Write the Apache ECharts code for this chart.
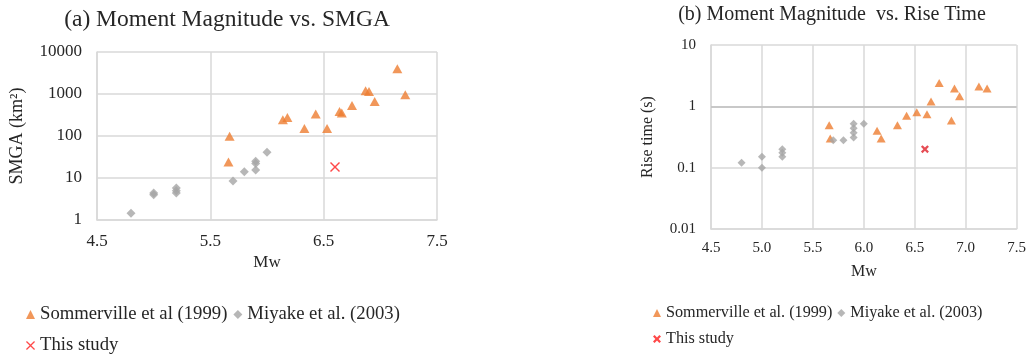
<!DOCTYPE html>
<html>
<head>
<meta charset="utf-8">
<style>
  html, body { margin: 0; padding: 0; background: #ffffff; }
  #chart { width: 1029px; height: 355px; }
</style>
<script src="https://cdn.jsdelivr.net/npm/echarts@6/dist/echarts.min.js"></script>
</head>
<body>
<div id="chart"></div>
<script>
// ---- (a) Moment magnitude vs. SMGA ----
const somMwA   = [5.67, 5.66, 6.14, 6.18, 6.33, 6.43, 6.53, 6.64, 6.66, 6.75, 6.87, 6.90, 6.95, 7.15, 7.22];
const somSmga  = [98, 24, 245, 275, 150, 335, 150, 385, 352, 535, 1200, 1150, 665, 4000, 960];
const miyMwA   = [4.8, 5.0, 5.0, 5.2, 5.2, 5.2, 5.7, 5.8, 5.9, 5.9, 5.9, 6.0];
const miySmga  = [1.45, 4.0, 4.4, 5.8, 5.0, 4.4, 8.5, 14, 25, 22, 15.6, 41];
const thisMwA  = [6.6];
const thisSmga = [18.4];

// ---- (b) Moment magnitude vs. rise time ----
const somMwB   = [5.66, 5.67, 6.13, 6.17, 6.33, 6.42, 6.52, 6.62, 6.66, 6.74, 6.86, 6.89, 6.94, 7.13, 7.21];
const somRise  = [0.49, 0.3, 0.4, 0.3, 0.49, 0.7, 0.8, 0.74, 1.2, 2.4, 0.59, 1.96, 1.46, 2.1, 1.96];
const miyMwB   = [4.8, 5.0, 5.0, 5.2, 5.2, 5.2, 5.7, 5.8, 5.9, 5.9, 5.9, 5.9, 6.0];
const miyRise  = [0.12, 0.15, 0.1, 0.2, 0.175, 0.15, 0.28, 0.28, 0.52, 0.44, 0.37, 0.31, 0.52];
const thisMwB  = [6.6];
const thisRise = [0.2];

// ---- axis ticks ----
const mwTicksA   = ['4.5', '5.5', '6.5', '7.5'];
const mwTicksB   = ['4.5', '5.0', '5.5', '6.0', '6.5', '7.0', '7.5'];
const smgaTicks  = ['1', '10', '100', '1000', '10000'];
const riseTicks  = ['0.01', '0.1', '1', '10'];

// ---- legend / series names ----
const somNameA  = 'Sommerville et al (1999)';
const somNameB  = 'Sommerville et al. (1999)';
const miyName   = 'Miyake et al. (2003)';
const thisName  = 'This study';

const FONT = "'Liberation Serif', 'Times New Roman', serif";
const ORANGE = '#ED7D31';
const GREY = '#A5A5A5';
const GRID = '#D9D9D9';
const TEXT = '#262626';

// x-shaped marker, thin and bold versions
const crossThin = 'path://M0,1L1,0L5,4L9,0L10,1L6,5L10,9L9,10L5,6L1,10L0,9L4,5Z';
const crossBold = 'path://M0,2L2,0L5,3L8,0L10,2L7,5L10,8L8,10L5,7L2,10L0,8L3,5Z';

const pairs = (xs, ys) => xs.map((x, i) => [x, ys[i]]);

function logLabel(ticks) {
  return function (v) {
    const hit = ticks.find(t => Math.abs(Math.log10(+t) - Math.log10(v)) < 1e-6);
    return hit !== undefined ? hit : '';
  };
}
function linLabel(ticks) {
  return function (v) {
    const hit = ticks.find(t => Math.abs(+t - v) < 1e-6);
    return hit !== undefined ? hit : '';
  };
}

const chart = echarts.init(document.getElementById('chart'), null, { renderer: 'canvas' });

chart.setOption({
  animation: false,
  backgroundColor: '#ffffff',
  title: [
    {
      text: '(a) Moment Magnitude vs. SMGA',
      left: 227, top: 8, textAlign: 'center', padding: 0,
      textStyle: { fontFamily: FONT, fontSize: 23.5, fontWeight: 'normal', color: TEXT }
    },
    {
      text: '(b) Moment Magnitude  vs. Rise Time',
      left: 832, top: 5, textAlign: 'center', padding: 0,
      textStyle: { fontFamily: FONT, fontSize: 20, fontWeight: 'normal', color: TEXT }
    }
  ],
  legend: [
    {
      data: [
        { name: somNameA, icon: 'triangle' },
        { name: miyName, icon: 'diamond', itemStyle: { color: GREY } }
      ],
      left: 26, top: 305, padding: 0, itemGap: 6, itemWidth: 9, itemHeight: 9,
      selectedMode: false,
      textStyle: { fontFamily: FONT, fontSize: 18.7, color: TEXT }
    },
    {
      data: [{ name: thisName }],
      left: 26, top: 336, padding: 0, itemWidth: 9, itemHeight: 9,
      selectedMode: false,
      textStyle: { fontFamily: FONT, fontSize: 18.7, color: TEXT }
    },
    {
      data: [
        { name: somNameB, icon: 'triangle' },
        { name: miyName, icon: 'diamond' }
      ],
      left: 653, top: 305, padding: 0, itemGap: 5, itemWidth: 8, itemHeight: 8,
      selectedMode: false,
      textStyle: { fontFamily: FONT, fontSize: 16.2, color: TEXT }
    },
    {
      data: [{ name: thisName, icon: crossBold }],
      left: 653, top: 331, padding: 0, itemWidth: 8, itemHeight: 8,
      selectedMode: false,
      textStyle: { fontFamily: FONT, fontSize: 16.2, color: TEXT }
    }
  ],
  grid: [
    { left: 97, top: 52, width: 340, height: 168 },
    { left: 711, top: 45, width: 307, height: 184 }
  ],
  xAxis: [
    {
      gridIndex: 0, type: 'value', min: 4.5, max: 7.5, interval: 1,
      axisLine: { show: true, lineStyle: { color: GRID, width: 1.5 } },
      axisTick: { show: false },
      splitLine: { show: true, lineStyle: { color: GRID, width: 1.5 } },
      axisLabel: { formatter: linLabel(mwTicksA), margin: 13, fontFamily: FONT, fontSize: 17, color: TEXT },
      name: 'Mw', nameLocation: 'middle', nameGap: 34,
      nameTextStyle: { fontFamily: FONT, fontSize: 17, color: TEXT }
    },
    {
      gridIndex: 1, type: 'value', min: 4.5, max: 7.5, interval: 0.5,
      axisLine: { show: true, lineStyle: { color: GRID, width: 1.5 } },
      axisTick: { show: false },
      splitLine: { show: true, lineStyle: { color: GRID, width: 1.5 } },
      axisLabel: { formatter: linLabel(mwTicksB), margin: 12, fontFamily: FONT, fontSize: 15, color: TEXT },
      name: 'Mw', nameLocation: 'middle', nameGap: 35,
      nameTextStyle: { fontFamily: FONT, fontSize: 16, color: TEXT }
    }
  ],
  yAxis: [
    {
      gridIndex: 0, type: 'log', logBase: 10,
      min: +smgaTicks[0], max: +smgaTicks[smgaTicks.length - 1],
      axisLine: { show: true, lineStyle: { color: GRID, width: 1.5 } },
      axisTick: { show: false },
      splitLine: { show: true, lineStyle: { color: GRID, width: 1.5 } },
      axisLabel: { formatter: logLabel(smgaTicks), margin: 15, fontFamily: FONT, fontSize: 17, color: TEXT },
      name: 'SMGA (km²)', nameLocation: 'middle', nameGap: 71, nameRotate: 90,
      nameTextStyle: { fontFamily: FONT, fontSize: 18, color: TEXT }
    },
    {
      gridIndex: 1, type: 'log', logBase: 10,
      min: +riseTicks[0], max: +riseTicks[riseTicks.length - 1],
      axisLine: { show: true, lineStyle: { color: GRID, width: 1.5 } },
      axisTick: { show: false },
      splitLine: { show: true, lineStyle: { color: GRID, width: 1.5 } },
      axisLabel: { formatter: logLabel(riseTicks), margin: 15, fontFamily: FONT, fontSize: 15, color: TEXT },
      name: 'Rise time (s)', nameLocation: 'middle', nameGap: 55, nameRotate: 90,
      nameTextStyle: { fontFamily: FONT, fontSize: 16, color: TEXT }
    }
  ],
  series: [
    {
      name: somNameA, type: 'scatter', xAxisIndex: 0, yAxisIndex: 0,
      symbol: 'triangle', symbolSize: [10, 9],
      itemStyle: { color: ORANGE },
      data: pairs(somMwA, somSmga)
    },
    {
      name: miyName, type: 'scatter', xAxisIndex: 0, yAxisIndex: 0,
      symbol: 'diamond', symbolSize: [9, 9],
      itemStyle: { color: GREY },
      data: pairs(miyMwA, miySmga)
    },
    {
      name: thisName, type: 'scatter', xAxisIndex: 0, yAxisIndex: 0,
      symbol: crossThin, symbolSize: [10, 10],
      itemStyle: { color: '#FF1A1A' },
      data: pairs(thisMwA, thisSmga)
    },
    {
      name: somNameB, type: 'scatter', xAxisIndex: 1, yAxisIndex: 1,
      symbol: 'triangle', symbolSize: [9, 8],
      itemStyle: { color: ORANGE },
      data: pairs(somMwB, somRise),
      markLine: {
        silent: true, symbol: 'none', animation: false,
        label: { show: false },
        lineStyle: { color: '#BFBFBF', width: 1.5, type: 'solid' },
        data: [{ yAxis: 1 }]
      }
    },
    {
      name: miyName, type: 'scatter', xAxisIndex: 1, yAxisIndex: 1,
      symbol: 'diamond', symbolSize: [8, 8],
      itemStyle: { color: GREY },
      data: pairs(miyMwB, miyRise)
    },
    {
      name: thisName, type: 'scatter', xAxisIndex: 1, yAxisIndex: 1,
      symbol: crossBold, symbolSize: [8, 8],
      itemStyle: { color: '#E0202A' },
      data: pairs(thisMwB, thisRise)
    }
  ]
});
</script>
</body>
</html>
